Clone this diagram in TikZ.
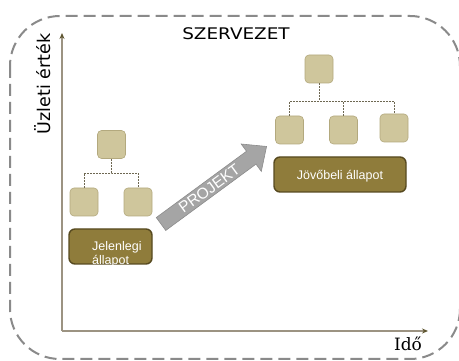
\documentclass[tikz,border=0pt]{standalone}
\usepackage{fontspec}
\setmainfont{Liberation Sans}
\newfontfamily\dejasans{DejaVu Sans}
\newfontfamily\widesans[FakeStretch=1.15]{DejaVu Sans}
\newfontfamily\dejaserif{DejaVu Serif}
\usetikzlibrary{arrows.meta,calc}
\definecolor{tanfill}{HTML}{CFC69C}
\definecolor{tanedge}{HTML}{B3A97E}
\definecolor{olivefill}{HTML}{8F7C3B}
\definecolor{oliveedge}{HTML}{574A20}
\definecolor{axisline}{HTML}{9C9382}
\definecolor{axistip}{HTML}{5E5530}
\definecolor{framegray}{HTML}{8A8A8A}
\definecolor{orgconn}{HTML}{6E6852}
\definecolor{arrowfill}{HTML}{A5A5A5}
\definecolor{arrowedge}{HTML}{8C8C8C}
\begin{document}
\begin{tikzpicture}[x=1pt,y=-1pt,
  unitbox/.style={rectangle, rounded corners=4pt, minimum size=28pt, inner sep=0pt,
    fill=tanfill, draw=tanedge, line width=0.6pt},
  statebox/.style={rectangle, rounded corners=6pt, minimum height=35pt, inner sep=0pt,
    fill=olivefill, draw=oliveedge, line width=1.4pt},
  statetext/.style={text=white, font=\fontsize{12.5}{14}\selectfont, inner sep=0pt},
  orgline/.style={draw=orgconn, line width=0.9pt, dash pattern=on 2pt off 1pt},
  axis/.style={draw=axisline, line width=1.5pt, -{Stealth[length=6pt,width=5pt,color=axistip]}}
]
\useasboundingbox (0,0) rectangle (459,361);

% dashed organisation frame
\draw[framegray, line width=2pt, dash pattern=on 12pt off 6pt, rounded corners=50pt]
  (10,16) rectangle (460,359);

% axes
\coordinate (O) at (62,331);
\coordinate (Ytop) at (62,33);
\coordinate (Xend) at (428,331);
\draw[axis] (O) -- (Ytop);
\draw[axis] (O) -- (Xend);

\node[rotate=90, font=\dejasans\fontsize{17.5}{20}\selectfont, inner sep=0pt] (ylab) at (43,84) {Üzleti érték};
\node[font=\dejaserif\fontsize{17}{20}\selectfont, inner sep=0pt] (xlab) at (408,344) {Idő};
\node[font=\widesans\fontsize{16}{19}\selectfont, inner sep=0pt] (title) at (236,34) {SZERVEZET};

% current organisation
\node[unitbox] (L0) at (111.5,144.5) {};
\node[unitbox] (L1) at (84,202) {};
\node[unitbox] (L2) at (138,202) {};
\coordinate (Lbus) at (111.5,173);
\draw[orgline] (L0.south) -- (Lbus);
\draw[orgline] (L1.north) |- (Lbus) -| (L2.north);
\node[statebox, minimum width=83pt] (J) at (110.5,246.5) {};
\node[statetext, anchor=west, align=left] (Jt) at (92,254) {Jelenlegi\\állapot};

% future organisation
\node[unitbox] (R0) at (319,69) {};
\node[unitbox] (R1) at (289.5,130) {};
\node[unitbox] (R2) at (343.5,130) {};
\node[unitbox] (R3) at (394,128) {};
\coordinate (Rbus) at (319,101);
\draw[orgline] (R0.south) -- (Rbus);
\draw[orgline] (R1.north) |- (Rbus) -| (R3.north);
\draw[orgline] (R2.north) -- (R2.north |- Rbus);
\node[statebox, minimum width=132pt] (F) at (340,174.5) {};
\node[statetext] (Ft) at (340,176) {Jövőbeli állapot};

% project arrow
\begin{scope}[shift={(161,224)}, rotate=36.3]
  \filldraw[fill=arrowfill, draw=arrowedge, line width=0.6pt]
    (0,-8) -- (112,-8) -- (112,-17) -- (131,0) -- (112,17) -- (112,8) -- (0,8) -- cycle;
  \node[text=white, rotate=36.3, font=\fontsize{15.5}{17}\selectfont, inner sep=0pt] (proj) at (60,0) {PROJEKT};
\end{scope}
\end{tikzpicture}
\end{document}
